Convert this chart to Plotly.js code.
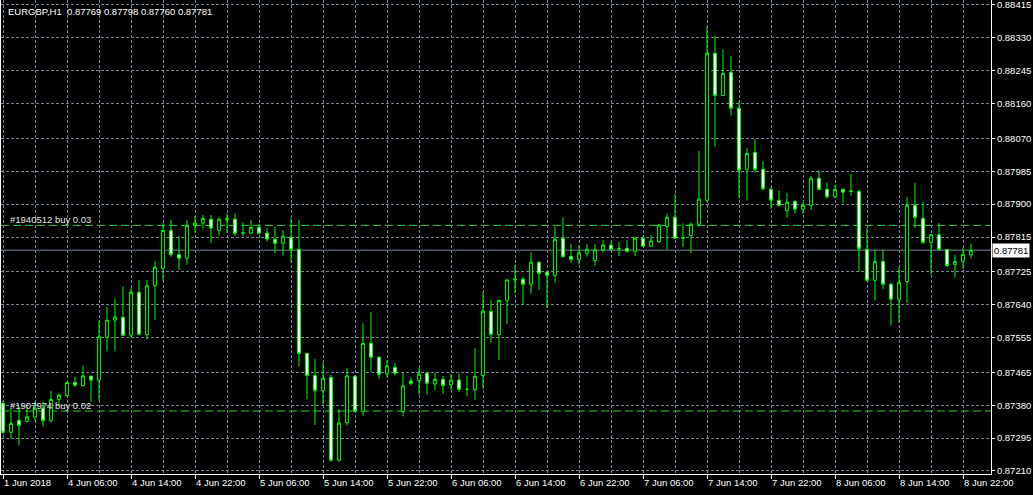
<!DOCTYPE html>
<html>
<head>
<meta charset="utf-8">
<script src="https://cdn.plot.ly/plotly-3.0.1.min.js"></script>
<style>
html,body{margin:0;padding:0;background:#000;}
#chart{width:1033px;height:495px;}
</style>
</head>
<body>
<div id="chart"></div>
<script>
// EURGBP H1 candles (bar index 0 = 1 Jun 2018 22:00 ... 121 = 8 Jun 23:00)
const OPEN = [
0.87385,0.87310,0.87341,0.87338,0.87349,0.87372,0.87340,0.87395,0.87405,0.87439,
0.87431,0.87455,0.87445,0.87556,0.87600,0.87607,0.87561,0.87672,0.87563,0.87689,
0.87733,0.87832,0.87770,0.87760,0.87845,0.87851,0.87861,0.87832,0.87860,0.87861,
0.87825,0.87825,0.87840,0.87825,0.87809,0.87799,0.87814,0.87783,0.87514,0.87457,
0.87418,0.87452,0.87238,0.87335,0.87455,0.87364,0.87540,0.87504,0.87461,0.87478,
0.87364,0.87443,0.87444,0.87463,0.87435,0.87447,0.87433,0.87445,0.87421,0.87420,
0.87457,0.87623,0.87563,0.87651,0.87704,0.87706,0.87693,0.87750,0.87724,0.87715,
0.87812,0.87765,0.87757,0.87773,0.87754,0.87782,0.87794,0.87784,0.87786,0.87778,
0.87812,0.87791,0.87803,0.87842,0.87866,0.87812,0.87819,0.87848,0.87910,0.88290,
0.88181,0.88241,0.88148,0.87990,0.88034,0.87990,0.87938,0.87910,0.87883,0.87907,
0.87887,0.87897,0.87967,0.87938,0.87919,0.87938,0.87933,0.87933,0.87783,0.87703,
0.87752,0.87693,0.87654,0.87700,0.87897,0.87863,0.87801,0.87821,0.87783,0.87744,
0.87752,0.87769];
const HIGH = [
0.87391,0.87372,0.87376,0.87376,0.87389,0.87389,0.87417,0.87411,0.87441,0.87454,
0.87482,0.87457,0.87599,0.87634,0.87655,0.87688,0.87682,0.87704,0.87704,0.87753,
0.87851,0.87859,0.87819,0.87859,0.87870,0.87872,0.87872,0.87866,0.87876,0.87876,
0.87853,0.87859,0.87849,0.87838,0.87842,0.87833,0.87863,0.87859,0.87516,0.87500,
0.87491,0.87458,0.87370,0.87476,0.87458,0.87592,0.87621,0.87508,0.87497,0.87489,
0.87464,0.87451,0.87476,0.87464,0.87464,0.87456,0.87461,0.87461,0.87456,0.87527,
0.87672,0.87652,0.87654,0.87707,0.87743,0.87713,0.87775,0.87751,0.87725,0.87842,
0.87865,0.87797,0.87794,0.87797,0.87797,0.87807,0.87803,0.87802,0.87807,0.87816,
0.87818,0.87820,0.87849,0.87875,0.87926,0.87850,0.87853,0.88038,0.88359,0.88335,
0.88300,0.88283,0.88165,0.88045,0.88069,0.88011,0.87945,0.87936,0.87929,0.87911,
0.87904,0.87973,0.87988,0.87956,0.87950,0.87941,0.87978,0.87938,0.87838,0.87783,
0.87782,0.87695,0.87738,0.87919,0.87955,0.87906,0.87822,0.87851,0.87784,0.87769,
0.87788,0.87798];
const LOW = [
0.87306,0.87295,0.87277,0.87336,0.87340,0.87325,0.87335,0.87383,0.87402,0.87428,
0.87428,0.87389,0.87392,0.87519,0.87519,0.87559,0.87553,0.87561,0.87550,0.87601,
0.87702,0.87764,0.87730,0.87743,0.87826,0.87835,0.87799,0.87819,0.87825,0.87818,
0.87816,0.87823,0.87823,0.87803,0.87773,0.87767,0.87749,0.87480,0.87396,0.87329,
0.87381,0.87234,0.87234,0.87327,0.87362,0.87353,0.87467,0.87448,0.87452,0.87457,
0.87351,0.87431,0.87407,0.87407,0.87420,0.87409,0.87420,0.87414,0.87404,0.87394,
0.87422,0.87542,0.87497,0.87590,0.87671,0.87640,0.87668,0.87678,0.87631,0.87697,
0.87763,0.87749,0.87744,0.87764,0.87741,0.87775,0.87782,0.87766,0.87775,0.87766,
0.87790,0.87790,0.87799,0.87782,0.87810,0.87790,0.87773,0.87842,0.87906,0.88049,
0.88180,0.88129,0.87917,0.87909,0.87981,0.87935,0.87888,0.87894,0.87865,0.87876,
0.87875,0.87885,0.87937,0.87914,0.87915,0.87902,0.87922,0.87724,0.87702,0.87651,
0.87680,0.87586,0.87594,0.87644,0.87838,0.87797,0.87718,0.87782,0.87738,0.87710,
0.87732,0.87760];
const CLOSE = [
0.87310,0.87333,0.87328,0.87350,0.87372,0.87340,0.87395,0.87406,0.87439,0.87432,
0.87456,0.87445,0.87557,0.87600,0.87608,0.87561,0.87672,0.87563,0.87689,0.87737,
0.87832,0.87770,0.87760,0.87845,0.87851,0.87863,0.87838,0.87861,0.87863,0.87825,
0.87825,0.87840,0.87825,0.87810,0.87799,0.87817,0.87783,0.87514,0.87457,0.87418,
0.87450,0.87238,0.87334,0.87456,0.87365,0.87540,0.87504,0.87460,0.87482,0.87463,
0.87430,0.87437,0.87461,0.87437,0.87447,0.87431,0.87445,0.87421,0.87421,0.87455,
0.87623,0.87563,0.87651,0.87704,0.87706,0.87693,0.87750,0.87721,0.87716,0.87809,
0.87764,0.87757,0.87774,0.87783,0.87782,0.87794,0.87783,0.87785,0.87778,0.87812,
0.87791,0.87805,0.87846,0.87866,0.87812,0.87813,0.87848,0.87913,0.88290,0.88181,
0.88238,0.88148,0.87988,0.88031,0.87990,0.87940,0.87910,0.87897,0.87905,0.87887,
0.87897,0.87967,0.87938,0.87919,0.87938,0.87931,0.87934,0.87785,0.87703,0.87752,
0.87693,0.87654,0.87698,0.87897,0.87866,0.87801,0.87821,0.87783,0.87741,0.87752,
0.87770,0.87781];

// time-axis labels, one every 8 bars
const X_LABELS = ["1 Jun 2018","4 Jun 06:00","4 Jun 14:00","4 Jun 22:00","5 Jun 06:00",
  "5 Jun 14:00","5 Jun 22:00","6 Jun 06:00","6 Jun 14:00","6 Jun 22:00","7 Jun 06:00",
  "7 Jun 14:00","7 Jun 22:00","8 Jun 06:00","8 Jun 14:00","8 Jun 22:00"];
const BARS_PER_LABEL = 8;
// price-axis labels
const Y_LABELS = ["0.87210","0.87295","0.87380","0.87465","0.87555","0.87640","0.87725",
  "0.87815","0.87900","0.87985","0.88070","0.88160","0.88245","0.88330","0.88415"];

const SYMBOL = "EURGBP,H1";
const BID = 0.87781;
const ORDERS = [{label:"#1940512 buy 0.03", price:0.87845},
                {label:"#1907974 buy 0.02", price:0.87365}];

const BAR_X = OPEN.map((_, i) => i);
const X_TICKS = X_LABELS.map((_, k) => k * BARS_PER_LABEL);

const GRID = '#778899';
const LIME = '#00ff00';
const FONT = 'Liberation Sans, Arial, sans-serif';

const trace = {
  type: 'candlestick',
  x: BAR_X, open: OPEN, high: HIGH, low: LOW, close: CLOSE,
  increasing: {line: {color: LIME, width: 1}, fillcolor: '#000000'},
  decreasing: {line: {color: LIME, width: 1}, fillcolor: '#ffffff'},
  whiskerwidth: 0,
  hoverinfo: 'skip'
};

const n = OPEN.length;
const shapes = [
  {type:'line', xref:'paper', x0:0, x1:1, yref:'y', y0:BID, y1:BID,
   line:{color:GRID, width:1}, layer:'below'}
];
ORDERS.forEach(o => shapes.push({type:'line', xref:'paper', x0:0, x1:1, yref:'y',
  y0:o.price, y1:o.price, line:{color:'#32cd32', width:1, dash:'8px,4px'}, layer:'below'}));

const annotations = [
  {xref:'paper', yref:'paper', x:0, y:1, xanchor:'left', yanchor:'middle', xshift:5, yshift:-11,
   showarrow:false, font:{family:FONT, size:9.5, color:'#ffffff'},
   text: SYMBOL + '&nbsp;&nbsp;' + [OPEN[n-1], HIGH[n-1], LOW[n-1], CLOSE[n-1]].map(v => v.toFixed(5)).join(' ')},
  {xref:'paper', yref:'y', x:1, y:BID, xanchor:'left', yanchor:'middle', xshift:1,
   showarrow:false, bgcolor:'#ffffff', borderpad:1,
   font:{family:FONT, size:9.5, color:'#000000'}, text: BID.toFixed(5)}
];
ORDERS.forEach(o => annotations.push({xref:'paper', yref:'y', x:0, y:o.price,
  xanchor:'left', yanchor:'middle', xshift:7, yshift:6, showarrow:false,
  font:{family:FONT, size:9.5, color:'#e6e6e6'}, text:o.label}));

const layout = {
  width:1033, height:495,
  paper_bgcolor:'#000000', plot_bgcolor:'#000000',
  margin:{l:1, r:42, t:0, b:21},
  showlegend:false, hovermode:false, boxgap:0.5,
  font:{family:FONT, size:9.5, color:'#ffffff'},
  xaxis:{
    range:[-0.25, 123.5], tickmode:'array', tickvals:X_TICKS, ticktext:X_LABELS,
    ticks:'outside', ticklen:4, tickcolor:'#ffffff', ticklabelposition:'outside right',
    ticklabeloverflow:'allow',
    tickfont:{family:FONT, size:9.5, color:'#ffffff'},
    showgrid:true, gridcolor:GRID, griddash:'3px,2px', gridwidth:1,
    minor:{tickmode:'linear', tick0:0, dtick:4, showgrid:true, gridcolor:GRID, griddash:'3px,2px', gridwidth:1, ticks:''},
    showline:true, linecolor:'#ffffff', linewidth:1, zeroline:false,
    rangeslider:{visible:false}, fixedrange:true
  },
  yaxis:{
    side:'right', range:[0.872022, 0.884279],
    tickmode:'array', tickvals:Y_LABELS.map(Number), ticktext:Y_LABELS,
    ticks:'outside', ticklen:3, tickcolor:'#ffffff', ticklabeloverflow:'allow',
    tickfont:{family:FONT, size:9.5, color:'#ffffff'},
    showgrid:true, gridcolor:GRID, griddash:'3px,2px', gridwidth:1,
    showline:true, mirror:true, linecolor:'#ffffff', linewidth:1, zeroline:false,
    fixedrange:true
  },
  shapes: shapes,
  annotations: annotations
};

Plotly.newPlot('chart', [trace], layout, {displayModeBar:false, staticPlot:true});
</script>
</body>
</html>
